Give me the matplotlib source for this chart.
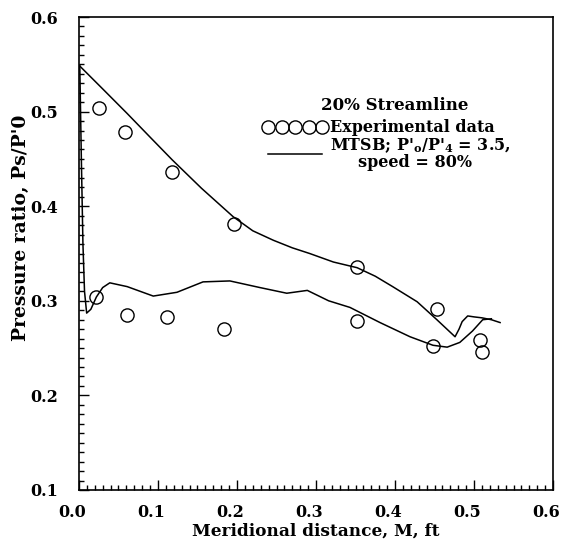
import numpy as np
import matplotlib
matplotlib.use("Agg")
import matplotlib.pyplot as plt
import matplotlib.transforms as mtransforms
from matplotlib.ticker import MultipleLocator, FormatStrFormatter

plt.rcParams['font.family'] = ['DejaVu Serif']
plt.rcParams['font.weight'] = 'bold'
plt.rcParams['mathtext.fontset'] = 'dejavuserif'

# experimental data (circles)
exp_x = [0.025, 0.058, 0.118, 0.196, 0.022, 0.061, 0.111, 0.184,
         0.352, 0.352, 0.453, 0.448, 0.508, 0.510]
exp_y = [0.504, 0.478, 0.436, 0.381, 0.304, 0.285, 0.283, 0.270,
         0.336, 0.279, 0.291, 0.252, 0.259, 0.246]

# MTSB solution, upper branch
up_x = [0.0, 0.030, 0.061, 0.090, 0.118, 0.155, 0.195, 0.220, 0.246,
        0.270, 0.292, 0.322, 0.352, 0.375, 0.397, 0.428, 0.453, 0.476,
        0.481, 0.485, 0.492, 0.500, 0.510, 0.522, 0.533]
up_y = [0.549, 0.524, 0.498, 0.473, 0.449, 0.419, 0.389, 0.374, 0.364,
        0.356, 0.350, 0.341, 0.335, 0.326, 0.315, 0.299, 0.280, 0.262,
        0.270, 0.278, 0.284, 0.283, 0.282, 0.280, 0.277]

# MTSB solution, lower branch
lo_x = [0.001, 0.003, 0.005, 0.007, 0.0097, 0.015, 0.022, 0.030, 0.039,
        0.061, 0.094, 0.124, 0.157, 0.191, 0.229, 0.263, 0.289, 0.316,
        0.343, 0.381, 0.419, 0.448, 0.466, 0.482, 0.498, 0.511, 0.522]
lo_y = [0.549, 0.450, 0.360, 0.310, 0.287, 0.291, 0.304, 0.314, 0.319,
        0.315, 0.305, 0.309, 0.320, 0.321, 0.314, 0.308, 0.311, 0.300,
        0.293, 0.277, 0.262, 0.253, 0.251, 0.256, 0.268, 0.280, 0.281]

fig = plt.figure(figsize=(5.65, 5.4), dpi=100)
ax = fig.add_axes([0.1398, 0.0926, 0.8390, 0.8759])

ax.plot(exp_x, exp_y, 'o', ms=9.5, mfc='none', mec='black', mew=1.0,
        label='Experimental data')
ax.plot(up_x, up_y, '-', color='black', lw=1.1,
        label="MTSB; P'$_\\mathbf{o}$/P'$_\\mathbf{4}$ = 3.5,\n     speed = 80%")
ax.plot(lo_x, lo_y, '-', color='black', lw=1.1)

ax.set_xlim(0.0, 0.6)
ax.set_ylim(0.1, 0.6)
ax.xaxis.set_major_locator(MultipleLocator(0.1))
ax.xaxis.set_minor_locator(MultipleLocator(0.01))
ax.yaxis.set_major_locator(MultipleLocator(0.1))
ax.yaxis.set_minor_locator(MultipleLocator(0.01))
ax.tick_params(which='both', direction='in', top=False, right=False,
               labelsize=11.5, width=1.0)
ax.tick_params(which='major', length=7, pad=10)
ax.tick_params(which='minor', length=3.5)
ax.tick_params(axis='y', which='major', pad=15)
for s in ax.spines.values():
    s.set_linewidth(1.2)
ax.xaxis.set_major_formatter(FormatStrFormatter('%.1f'))
ax.yaxis.set_major_formatter(FormatStrFormatter('%.1f'))

# x tick labels sit a little left of their ticks in the original
shift = mtransforms.ScaledTranslation(-5 / 72, 0, fig.dpi_scale_trans)
for lab in ax.get_xticklabels():
    lab.set_transform(lab.get_transform() + shift)

ax.set_xlabel('Meridional distance, M, ft', fontsize=12.2, fontweight='bold',
              labelpad=1)
ax.set_ylabel("Pressure ratio, Ps/P'0", fontsize=13.5, fontweight='bold')
ax.yaxis.set_label_coords(-0.103, 0.554)

ax.text(0.667, 0.812, '20% Streamline', transform=ax.transAxes,
        ha='center', va='center', fontsize=12, fontweight='bold')

leg = ax.legend(loc='upper left', bbox_to_anchor=(0.389, 0.784), frameon=False,
                numpoints=5, handlelength=4.0, handletextpad=0.2,
                borderpad=0, borderaxespad=0, labelspacing=0.0,
                prop={'size': 11.5, 'weight': 'bold'})
for t in leg.get_texts():
    t.set_linespacing(0.9)

fig.savefig('out.png', dpi=100)
